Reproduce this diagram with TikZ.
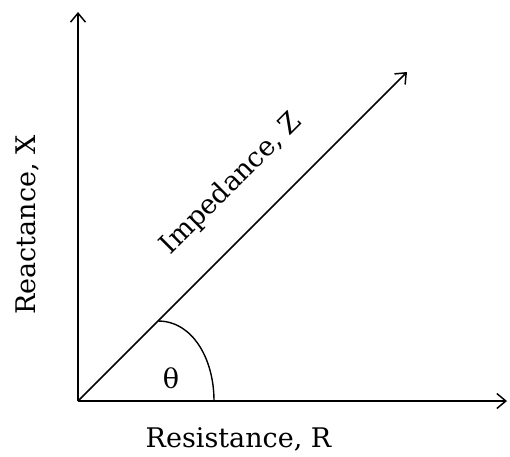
\documentclass[tikz,border=0pt]{standalone}
\usepackage{fontspec}
\setmainfont{DejaVu Serif}
\usetikzlibrary{arrows.meta}
\tikzset{
  axisline/.style={line width=1.6pt, -{Straight Barb[length=9pt,width=15pt,line width=1.5pt]}},
  lbl/.style={font=\fontsize{27}{32}\selectfont, inner sep=0pt},
}
\begin{document}
\begin{tikzpicture}[x=1pt,y=-1pt]
\useasboundingbox (0,0) rectangle (510,456);
\coordinate (O) at (78,401);
\coordinate (Ytip) at (78,12);
\coordinate (Xtip) at (507,401);
\coordinate (Ztip) at (407,72);
\coordinate (A1) at (158,321);
\coordinate (A2) at (214,401);
\draw[axisline] (O) -- (Ytip);
\draw[axisline] (O) -- (Xtip);
\draw[axisline] (O) -- (Ztip);
\draw[line width=1.4pt] (A1) .. controls (192,321) and (214,358) .. (A2);
\node[lbl, anchor=base] (R) at (238.5,447) {Resistance, R};
\node[lbl, anchor=base, rotate=90] (X) at (35,225) {Reactance, X};
\node[lbl, anchor=base, rotate=45] (Z) at (237,189) {Impedance, Z};
\node[lbl] (th) at (171,378) {θ};
\end{tikzpicture}
\end{document}
